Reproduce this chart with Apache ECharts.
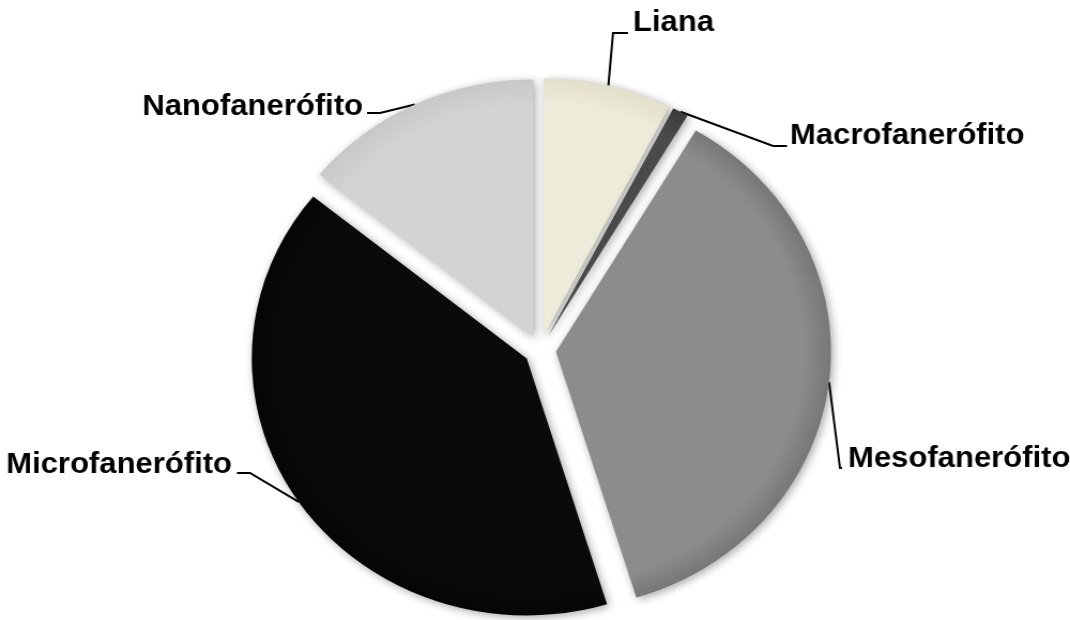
<!DOCTYPE html>
<html><head><meta charset="utf-8">
<script src="https://cdn.jsdelivr.net/npm/echarts@6/dist/echarts.min.js"></script>
<style>
html,body{margin:0;padding:0;background:#fff;overflow:hidden;}
#wrap{width:1070px;height:620px;overflow:hidden;position:relative;}
#chart{width:1100px;height:620px;transform:scaleX(1.07);transform-origin:0 0;}
</style></head><body>
<div id="wrap"><div id="chart"></div></div>
<script>
// ---- data ----
const categories = ['Liana', 'Macrofanerófito', 'Mesofanerófito', 'Microfanerófito', 'Nanofanerófito'];
const values = [8, 1, 39, 43, 15];

// ---- styles / layout ----
const colors = ['#EDEBD9', '#4A4A4A', '#8C8C8C', '#0A0A0A', '#D3D3D3'];
const edgeColors = ['#E2DFCB', '#3A3A3A', '#777777', '#050505', '#C8C8C8'];
const SX = 1.07;            // horizontal stretch of the original picture
const CX = 504.7, CY = 350; // pie centre (chart px, before stretch)
const R = 257;              // radius
const EXPLODE = 15;         // distance every slice is pulled out
// label text anchor (image px), bend point and end point of leader line
const spots = [
  {tx: 633, ty: 23, align: 'left', bend: [613, 33], end: [628, 33]},
  {tx: 790, ty: 136, align: 'left', bend: [773, 146], end: [787, 146]},
  {tx: 848, ty: 459, align: 'left', bend: [840, 468], end: [842, 468]},
  {tx: 232, ty: 465, align: 'right', bend: [250, 473], end: [237, 473]},
  {tx: 363, ty: 107, align: 'right', bend: [380, 113], end: [367, 113]}
];

const total = values.reduce((a, b) => a + b, 0);
let cum = 0;
const series = values.map((v, i) => {
  const mid = (cum + v / 2) / total * 2 * Math.PI;
  cum += v;
  const cx = CX + EXPLODE * Math.sin(mid);
  const cy = CY - EXPLODE * Math.cos(mid);
  const fill = {
    type: 'radial', x: cx, y: cy, r: R, global: true,
    colorStops: [
      {offset: 0, color: colors[i]},
      {offset: 0.9, color: colors[i]},
      {offset: 1, color: edgeColors[i]}
    ]
  };
  return {
    type: 'pie',
    center: [cx, cy],
    radius: R,
    startAngle: 90,
    clockwise: true,
    silent: true,
    z: 2,
    data: categories.map((c, j) => ({
      name: c,
      value: values[j],
      itemStyle: j === i ? {
        color: fill, borderWidth: 0,
        shadowBlur: 8, shadowColor: 'rgba(0,0,0,0.35)', shadowOffsetX: 2, shadowOffsetY: 2
      } : {color: 'rgba(0,0,0,0)', borderWidth: 0, shadowBlur: 0},
      label: {show: j === i},
      labelLine: {show: j === i}
    })),
    label: {
      position: 'outside',
      formatter: '{b}',
      fontFamily: 'Liberation Sans, Arial, sans-serif',
      fontWeight: 'bold',
      fontSize: 29,
      color: '#000',
      overflow: 'none'
    },
    labelLine: {
      length: 20,
      length2: 10,
      lineStyle: {color: '#000', width: 2}
    },
    labelLayout: function (p) {
      const s = spots[p.dataIndex];
      const pts = p.labelLinePoints;
      const start = pts ? pts[0] : [s.bend[0] / SX, s.bend[1]];
      return {
        x: s.tx / SX, y: s.ty, align: s.align, verticalAlign: 'middle',
        labelLinePoints: [start, [s.bend[0] / SX, s.bend[1]], [s.end[0] / SX, s.end[1]]]
      };
    }
  };
});

const chart = echarts.init(document.getElementById('chart'), null, {renderer: 'canvas'});
chart.setOption({animation: false, series: series});
</script>
</body></html>
